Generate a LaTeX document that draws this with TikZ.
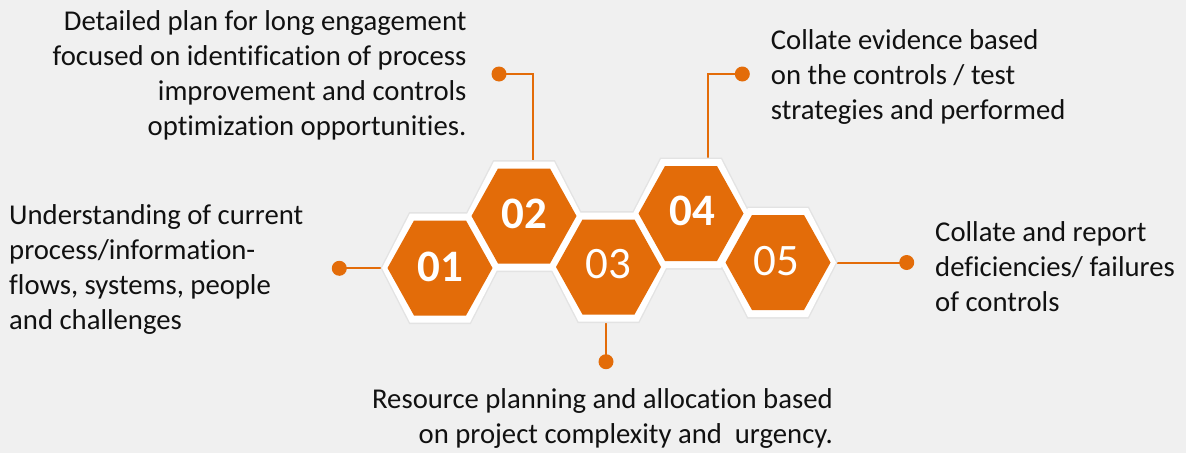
\documentclass[tikz,border=0pt]{standalone}
\usepackage{fontspec}
\setmainfont{Carlito}[Ligatures=NoCommon]
\definecolor{hexorange}{HTML}{E36C09}
\definecolor{bgc}{HTML}{F0F0F0}
\definecolor{txt}{HTML}{111111}
\definecolor{shadowc}{HTML}{E3E3E3}
\begin{document}
\begin{tikzpicture}[x=1pt,y=-1pt,
  dot/.style={circle,fill=hexorange,minimum size=15pt,inner sep=0pt},
  link/.style={draw=hexorange,line width=2pt},
  desc/.style={font=\fontsize{28.7}{35}\selectfont,text=txt,inner sep=0pt},
  num/.style={text=white,font=\fontsize{45}{45}\selectfont,inner sep=0pt}]
\fill[bgc] (0,0) rectangle (1186,453);
\useasboundingbox (0,0) rectangle (1186,453);
% hex centres and connector anchors
\coordinate (k1) at (440,268);
\coordinate (k2) at (524,216);
\coordinate (k3) at (608.5,267);
\coordinate (k4) at (691,213.5);
\coordinate (k5) at (778,262.5);
\coordinate (t2) at (533,175);
\coordinate (t3) at (606,300);
\coordinate (t4) at (708.3,175);
% dots
\node[dot] (d1) at (339.3,268.3) {};
\node[dot] (d2) at (499,74) {};
\node[dot] (d3) at (606,361.7) {};
\node[dot] (d4) at (742.3,74) {};
\node[dot] (d5) at (906.7,262.5) {};
% connectors
\draw[link] (d1.center) -- (d1.center -| k1);
\draw[link] (d2.center) -| (t2);
\draw[link] (d3.center) -- (t3);
\draw[link] (d4.center) -| (t4);
\draw[link] (d5.center) -- (d5.center -| k5);
% hexagons
\foreach \x/\y in {440/268,524/216,608.5/267,691/213.5,778/262.5}{
  \fill[shadowc] (\x-59.5,\y) -- (\x-30.8,\y-56) -- (\x+30.8,\y-56) -- (\x+59.5,\y) -- (\x+30.8,\y+56) -- (\x-30.8,\y+56) -- cycle;
}
\foreach \x/\y in {440/268,524/216,608.5/267,691/213.5,778/262.5}{
  \fill[white] (\x-58,\y) -- (\x-30,\y-54.5) -- (\x+30,\y-54.5) -- (\x+58,\y) -- (\x+30,\y+54.5) -- (\x-30,\y+54.5) -- cycle;
}
\foreach \x/\y in {440/268,524/216,608.5/267,691/213.5,778/262.5}{
  \fill[hexorange] (\x-52.5,\y) -- (\x-26,\y-47.5) -- (\x+26,\y-47.5) -- (\x+52.5,\y) -- (\x+26,\y+47.5) -- (\x-26,\y+47.5) -- cycle;
}
% numbers
\node[num] (h1) at (440,267) {\textbf{01}};
\node[num] (h2) at (524,214) {\textbf{02}};
\node[num] (h3) at (608,264) {03};
\node[num] (h4) at (692,211) {\textbf{04}};
\node[num] (h5) at (776,261) {05};
% descriptions (anchor = baseline of last line)
\node[desc,align=left,anchor=base west] (s1) at (9,329) {Understanding of current\\process/information-\\flows, systems, people\\and challenges};
\node[desc,align=right,anchor=base east] (s2) at (466.7,135) {Detailed plan for long engagement\\focused on identification of process\\improvement and controls\\optimization opportunities.};
\node[desc,align=right,anchor=base east] (s3) at (833,443) {Resource planning and allocation based\\on project complexity and~ urgency.};
\node[desc,align=left,anchor=base west] (s4) at (770.7,119) {Collate evidence based\\on the controls / test\\strategies and performed};
\node[desc,align=left,anchor=base west] (s5) at (935,311.7) {Collate and report\\deficiencies/ failures\\of controls};
\end{tikzpicture}
\end{document}
